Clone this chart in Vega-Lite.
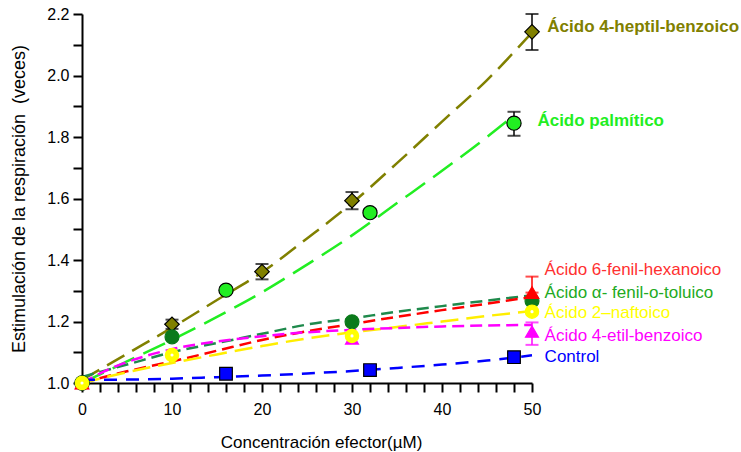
{
  "$schema": "https://vega.github.io/schema/vega-lite/v6.json",
  "width": 450,
  "height": 369,
  "autosize": {"type": "none"},
  "padding": {"left": 82, "top": 14, "right": 209, "bottom": 69},
  "background": "white",
  "config": {
    "view": {"stroke": null},
    "font": "Liberation Sans",
    "axis": {
      "grid": false,
      "domainColor": "black",
      "domainWidth": 2,
      "tickColor": "black",
      "tickWidth": 2,
      "tickSize": 9,
      "labelColor": "black",
      "labelFont": "Liberation Sans",
      "labelFontSize": 16,
      "titleFont": "Liberation Sans",
      "titleFontSize": 17,
      "titleFontWeight": "normal",
      "titleColor": "black",
      "labelOverlap": false,
      "labelFlush": false
    }
  },
  "datasets": {
    "curves": [
      {"series": "heptil", "x": 0, "y": 1.01}, {"series": "heptil", "x": 5, "y": 1.095}, {"series": "heptil", "x": 10, "y": 1.18},
      {"series": "heptil", "x": 15, "y": 1.27}, {"series": "heptil", "x": 20, "y": 1.36}, {"series": "heptil", "x": 25, "y": 1.47},
      {"series": "heptil", "x": 30, "y": 1.585}, {"series": "heptil", "x": 35, "y": 1.715}, {"series": "heptil", "x": 40, "y": 1.85},
      {"series": "heptil", "x": 45, "y": 1.985}, {"series": "heptil", "x": 50, "y": 2.14},
      {"series": "palmitico", "x": 0, "y": 1.0}, {"series": "palmitico", "x": 5, "y": 1.07}, {"series": "palmitico", "x": 10, "y": 1.14},
      {"series": "palmitico", "x": 15, "y": 1.215}, {"series": "palmitico", "x": 20, "y": 1.295}, {"series": "palmitico", "x": 25, "y": 1.385},
      {"series": "palmitico", "x": 30, "y": 1.48}, {"series": "palmitico", "x": 35, "y": 1.585}, {"series": "palmitico", "x": 40, "y": 1.69},
      {"series": "palmitico", "x": 45, "y": 1.8}, {"series": "palmitico", "x": 48, "y": 1.87},
      {"series": "toluico", "x": 0, "y": 1.02}, {"series": "toluico", "x": 5, "y": 1.06}, {"series": "toluico", "x": 10, "y": 1.1},
      {"series": "toluico", "x": 15, "y": 1.13}, {"series": "toluico", "x": 20, "y": 1.16}, {"series": "toluico", "x": 25, "y": 1.19},
      {"series": "toluico", "x": 30, "y": 1.21}, {"series": "toluico", "x": 35, "y": 1.232}, {"series": "toluico", "x": 40, "y": 1.25},
      {"series": "toluico", "x": 45, "y": 1.268}, {"series": "toluico", "x": 50, "y": 1.285},
      {"series": "hexanoico", "x": 0, "y": 1.0}, {"series": "hexanoico", "x": 5, "y": 1.038}, {"series": "hexanoico", "x": 10, "y": 1.07},
      {"series": "hexanoico", "x": 15, "y": 1.105}, {"series": "hexanoico", "x": 20, "y": 1.14}, {"series": "hexanoico", "x": 25, "y": 1.168},
      {"series": "hexanoico", "x": 30, "y": 1.192}, {"series": "hexanoico", "x": 35, "y": 1.215}, {"series": "hexanoico", "x": 40, "y": 1.237},
      {"series": "hexanoico", "x": 45, "y": 1.258}, {"series": "hexanoico", "x": 50, "y": 1.28},
      {"series": "naftoico", "x": 0, "y": 1.0}, {"series": "naftoico", "x": 5, "y": 1.035}, {"series": "naftoico", "x": 10, "y": 1.065},
      {"series": "naftoico", "x": 15, "y": 1.093}, {"series": "naftoico", "x": 20, "y": 1.12}, {"series": "naftoico", "x": 25, "y": 1.145},
      {"series": "naftoico", "x": 30, "y": 1.165}, {"series": "naftoico", "x": 35, "y": 1.182}, {"series": "naftoico", "x": 40, "y": 1.2},
      {"series": "naftoico", "x": 45, "y": 1.218}, {"series": "naftoico", "x": 50, "y": 1.234},
      {"series": "etil", "x": 0, "y": 1.0}, {"series": "etil", "x": 3, "y": 1.045}, {"series": "etil", "x": 6, "y": 1.078},
      {"series": "etil", "x": 10, "y": 1.11}, {"series": "etil", "x": 15, "y": 1.135}, {"series": "etil", "x": 20, "y": 1.152},
      {"series": "etil", "x": 25, "y": 1.165}, {"series": "etil", "x": 30, "y": 1.173}, {"series": "etil", "x": 35, "y": 1.179},
      {"series": "etil", "x": 40, "y": 1.184}, {"series": "etil", "x": 45, "y": 1.187}, {"series": "etil", "x": 50, "y": 1.189},
      {"series": "control", "x": 0, "y": 1.01}, {"series": "control", "x": 10, "y": 1.014}, {"series": "control", "x": 15, "y": 1.019},
      {"series": "control", "x": 20, "y": 1.024}, {"series": "control", "x": 25, "y": 1.031}, {"series": "control", "x": 30, "y": 1.039},
      {"series": "control", "x": 35, "y": 1.049}, {"series": "control", "x": 40, "y": 1.06}, {"series": "control", "x": 45, "y": 1.073},
      {"series": "control", "x": 50, "y": 1.09}
    ],
    "errs": [
      {"series": "control", "x": 16, "lo": 1.022, "hi": 1.038},
      {"series": "control", "x": 32, "lo": 1.032, "hi": 1.052},
      {"series": "control", "x": 48, "lo": 1.072, "hi": 1.096},
      {"series": "heptil", "x": 10, "lo": 1.176, "hi": 1.206},
      {"series": "heptil", "x": 20, "lo": 1.337, "hi": 1.387},
      {"series": "heptil", "x": 30, "lo": 1.565, "hi": 1.621},
      {"series": "heptil", "x": 50, "lo": 2.083, "hi": 2.2},
      {"series": "palmitico", "x": 16, "lo": 1.294, "hi": 1.31},
      {"series": "palmitico", "x": 32, "lo": 1.542, "hi": 1.566},
      {"series": "palmitico", "x": 48, "lo": 1.804, "hi": 1.882},
      {"series": "hexanoico", "x": 50, "lo": 1.294, "hi": 1.346},
      {"series": "etil", "x": 50, "lo": 1.124, "hi": 1.197}
    ],
    "points": [
      {"series": "control", "x": 16, "y": 1.03},
      {"series": "control", "x": 32, "y": 1.042},
      {"series": "control", "x": 48, "y": 1.084},
      {"series": "heptil", "x": 0, "y": 1.0},
      {"series": "heptil", "x": 10, "y": 1.191},
      {"series": "heptil", "x": 20, "y": 1.362},
      {"series": "heptil", "x": 30, "y": 1.593},
      {"series": "heptil", "x": 50, "y": 2.142},
      {"series": "palmitico", "x": 0, "y": 1.0},
      {"series": "palmitico", "x": 16, "y": 1.302},
      {"series": "palmitico", "x": 32, "y": 1.554},
      {"series": "palmitico", "x": 48, "y": 1.845},
      {"series": "etil", "x": 0, "y": 1.0},
      {"series": "etil", "x": 30, "y": 1.145},
      {"series": "etil", "x": 50, "y": 1.167},
      {"series": "toluico", "x": 0, "y": 1.0},
      {"series": "toluico", "x": 10, "y": 1.15},
      {"series": "toluico", "x": 30, "y": 1.199},
      {"series": "toluico", "x": 50, "y": 1.267},
      {"series": "hexanoico", "x": 0, "y": 1.0},
      {"series": "hexanoico", "x": 50, "y": 1.294},
      {"series": "naftoico", "x": 0, "y": 1.0},
      {"series": "naftoico", "x": 10, "y": 1.091},
      {"series": "naftoico", "x": 30, "y": 1.153},
      {"series": "naftoico", "x": 50, "y": 1.232}
    ],
    "labels": [
      {"series": "heptil", "x": 51.7, "y": 2.158, "label": "Ácido 4-heptil-benzoico", "bold": true},
      {"series": "palmitico", "x": 50.6, "y": 1.852, "label": "Ácido palmítico", "bold": true},
      {"series": "hexanoico", "x": 51.4, "y": 1.367, "label": "Ácido 6-fenil-hexanoico", "bold": false},
      {"series": "toluico", "x": 51.4, "y": 1.293, "label": "Ácido α- fenil-o-toluico", "bold": false},
      {"series": "naftoico", "x": 51.4, "y": 1.228, "label": "Ácido 2–naftoico", "bold": false},
      {"series": "etil", "x": 51.4, "y": 1.153, "label": "Ácido 4-etil-benzoico", "bold": false},
      {"series": "control", "x": 51.4, "y": 1.085, "label": "Control", "bold": false}
    ]
  },
  "encoding": {
    "x": {
      "field": "x", "type": "quantitative",
      "scale": {"domain": [0, 50], "nice": false, "zero": false},
      "axis": {
        "title": "Concentración efector(µM)",
        "values": [0, 2, 4, 6, 8, 10, 12, 14, 16, 18, 20, 22, 24, 26, 28, 30, 32, 34, 36, 38, 40, 42, 44, 46, 48, 50],
        "labelExpr": "datum.value % 10 == 0 ? datum.label : ''",
        "labelPadding": 9,
        "titleX": 239,
        "titleY": 59,
        "titleBaseline": "middle",
        "encode": {"ticks": {"update": {"y2": {"signal": "datum.value % 10 == 0 ? 9 : 5"}}}}
      }
    },
    "y": {
      "field": "y", "type": "quantitative",
      "scale": {"domain": [1.0, 2.2], "nice": false, "zero": false},
      "axis": {
        "title": "Estimulación de la respiración\u00a0 (veces)",
        "titleFontSize": 18,
        "values": [1.0, 1.1, 1.2, 1.3, 1.4, 1.5, 1.6, 1.7, 1.8, 1.9, 2.0, 2.1, 2.2],
        "labelExpr": "round(datum.value * 10) % 2 == 0 ? format(datum.value, '.1f') : ''",
        "labelPadding": 4,
        "titleX": -63,
        "titleBaseline": "middle",
        "encode": {"ticks": {"update": {"x2": {"signal": "round(datum.value * 10) % 2 == 0 ? -9 : -5"}}}}
      }
    }
  },
  "layer": [
    {
      "data": {"name": "curves"},
      "mark": {"type": "line", "interpolate": "monotone"},
      "encoding": {
        "detail": {"field": "series"},
        "color": {
          "field": "series", "legend": null,
          "scale": {"domain": ["heptil", "palmitico", "toluico", "hexanoico", "naftoico", "etil", "control"],
                    "range": ["#808000", "#22ee22", "#1f8a4c", "#ff0000", "#ffee00", "#ff00ff", "#0000ff"]}
        },
        "strokeDash": {
          "field": "series", "legend": null,
          "scale": {"domain": ["heptil", "palmitico", "toluico", "hexanoico", "naftoico", "etil", "control"],
                    "range": [[20, 9], [24, 10], [12, 6], [12, 6], [18, 8], [12, 6], [13, 9]]}
        },
        "strokeWidth": {
          "field": "series", "legend": null,
          "scale": {"domain": ["heptil", "palmitico", "toluico", "hexanoico", "naftoico", "etil", "control"],
                    "range": [2.5, 2.5, 3, 3, 3, 3, 1.2]}
        }
      }
    },
    {
      "data": {"name": "errs"},
      "mark": {"type": "rule", "strokeWidth": 1.5},
      "encoding": {
        "y": {"field": "lo", "type": "quantitative"},
        "y2": {"field": "hi"},
        "color": {
          "field": "series", "legend": null,
          "scale": {"domain": ["control", "heptil", "palmitico", "hexanoico", "etil"],
                    "range": ["black", "black", "black", "#ff0000", "#ff00ff"]}
        }
      }
    },
    {
      "data": {"name": "errs"},
      "mark": {"type": "tick", "orient": "horizontal", "size": 13, "thickness": 2},
      "encoding": {
        "y": {"field": "lo", "type": "quantitative"},
        "color": {
          "field": "series", "legend": null,
          "scale": {"domain": ["control", "heptil", "palmitico", "hexanoico", "etil"],
                    "range": ["black", "black", "black", "#ff0000", "#ff00ff"]}
        }
      }
    },
    {
      "data": {"name": "errs"},
      "mark": {"type": "tick", "orient": "horizontal", "size": 13, "thickness": 2},
      "encoding": {
        "y": {"field": "hi", "type": "quantitative"},
        "color": {
          "field": "series", "legend": null,
          "scale": {"domain": ["control", "heptil", "palmitico", "hexanoico", "etil"],
                    "range": ["black", "black", "black", "#ff0000", "#ff00ff"]}
        }
      }
    },
    {
      "data": {"name": "points"},
      "mark": {"type": "point", "filled": true, "opacity": 1, "strokeWidth": 1.2},
      "encoding": {
        "color": {
          "field": "series", "legend": null,
          "scale": {"domain": ["heptil", "palmitico", "toluico", "hexanoico", "naftoico", "etil", "control"],
                    "range": ["#808000", "#22ee22", "#0b7a1b", "#ff0000", "#ffff00", "#ff00ff", "#0000ff"]}
        },
        "stroke": {
          "field": "series", "legend": null,
          "scale": {"domain": ["heptil", "palmitico", "toluico", "hexanoico", "naftoico", "etil", "control"],
                    "range": ["black", "black", "#0b7a1b", "#ff0000", "#ffff00", "#ff00ff", "black"]}
        },
        "shape": {
          "field": "series", "legend": null,
          "scale": {"domain": ["heptil", "palmitico", "toluico", "hexanoico", "naftoico", "etil", "control"],
                    "range": ["diamond", "circle", "circle", "triangle-up", "circle", "triangle-up", "square"]}
        },
        "size": {
          "field": "series", "legend": null,
          "scale": {"domain": ["heptil", "palmitico", "toluico", "hexanoico", "naftoico", "etil", "control"],
                    "range": [210, 160, 150, 150, 150, 120, 121]}
        }
      }
    },
    {
      "data": {"name": "points"},
      "transform": [{"filter": "datum.series == 'naftoico'"}],
      "mark": {"type": "circle", "color": "white", "size": 10, "opacity": 1}
    },
    {
      "data": {"name": "labels"},
      "transform": [{"filter": "datum.bold"}],
      "mark": {"type": "text", "align": "left", "baseline": "middle", "fontSize": 17, "fontWeight": "bold", "font": "Liberation Sans"},
      "encoding": {
        "text": {"field": "label"},
        "color": {
          "field": "series", "legend": null,
          "scale": {"domain": ["heptil", "palmitico"], "range": ["#808000", "#22ee22"]}
        }
      }
    },
    {
      "data": {"name": "labels"},
      "transform": [{"filter": "!datum.bold"}],
      "mark": {"type": "text", "align": "left", "baseline": "middle", "fontSize": 17, "font": "Liberation Sans"},
      "encoding": {
        "text": {"field": "label"},
        "size": {
          "field": "series", "legend": null,
          "scale": {"domain": ["hexanoico", "toluico", "naftoico", "etil", "control"], "range": [17, 17, 17, 17, 19]}
        },
        "color": {
          "field": "series", "legend": null,
          "scale": {"domain": ["hexanoico", "toluico", "naftoico", "etil", "control"],
                    "range": ["#ff3030", "#22aa22", "#ffff00", "#ff00ff", "#0000ff"]}
        }
      }
    }
  ],
  "resolve": {"scale": {"color": "independent", "stroke": "independent", "size": "independent"}}
}
